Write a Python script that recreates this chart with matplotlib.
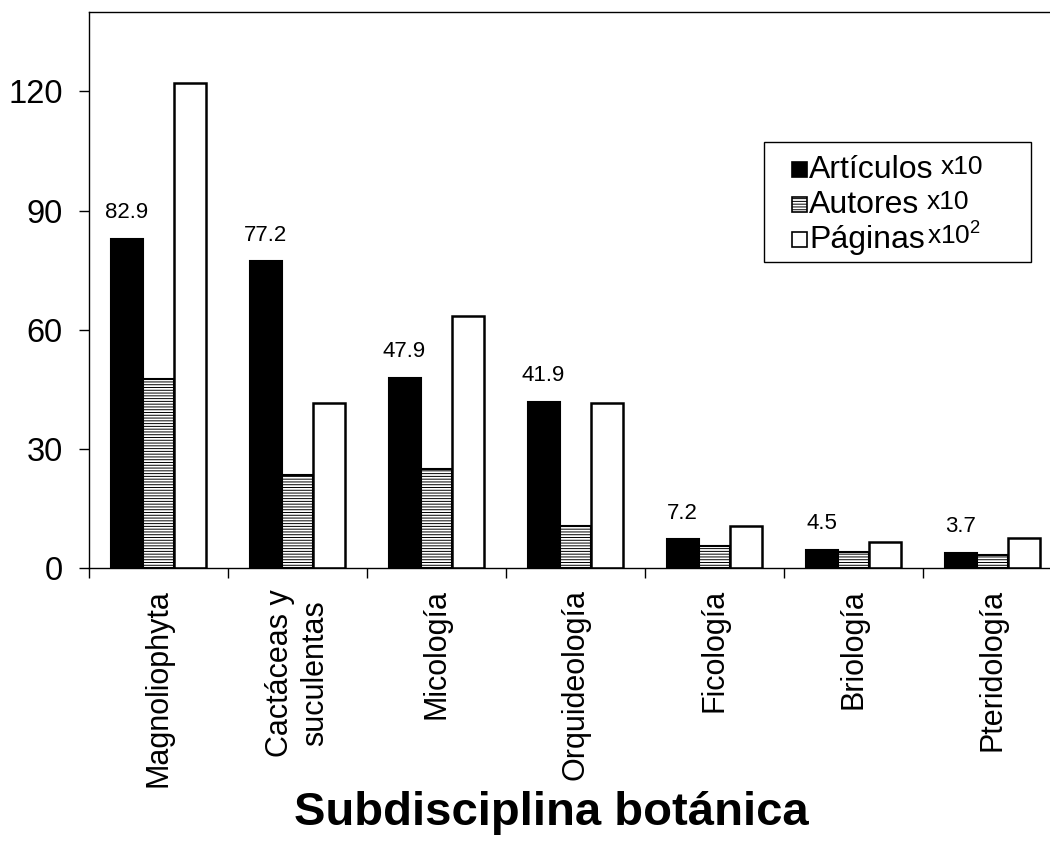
import numpy as np
import matplotlib.pyplot as plt
from matplotlib.patches import Rectangle

plt.rcParams['font.family'] = ['Liberation Sans', 'DejaVu Sans']
plt.rcParams['hatch.linewidth'] = 0.7
plt.rcParams['hatch.color'] = '#444444'

categories = ['Magnoliophyta', 'Cactáceas y\nsuculentas', 'Micología', 'Orquideología',
              'Ficología', 'Briología', 'Pteridología']
articulos = [82.9, 77.2, 47.9, 41.9, 7.2, 4.5, 3.7]
autores = [47.5, 23.5, 25.0, 10.5, 5.5, 4.0, 3.2]
paginas = [122.0, 41.5, 63.5, 41.5, 10.5, 6.5, 7.5]
yticks = [0, 30, 60, 90, 120]

W, H = 1050, 852
fig = plt.figure(figsize=(W / 100, H / 100), dpi=100)
ax = fig.add_axes([89 / W, 1 - 568 / H, (1062 - 89) / W, (568 - 12) / H])

x = np.arange(len(categories))
bw = 0.23
b1 = ax.bar(x - bw, articulos, bw, color='black', edgecolor='black', lw=1.5)
b2 = ax.bar(x, autores, bw, color='white', edgecolor='black', lw=1.5, hatch='------')
b3 = ax.bar(x + bw, paginas, bw, color='white', edgecolor='black', lw=1.8)

for rect, v in zip(b1, articulos):
    ax.annotate(f'{v:.1f}', (rect.get_x() + rect.get_width() / 2, v),
                xytext=(0, 19), textcoords='offset points',
                ha='center', va='center', fontsize=16)

ax.set_xlim(-0.5, 6.5)
ax.set_ylim(0, 140)
ax.set_yticks(yticks)
ax.tick_params(axis='y', labelsize=23.5, length=7, width=1, pad=12)
ax.set_xticks(np.arange(len(categories) + 1) - 0.5)
ax.set_xticklabels([])
ax.set_xticks(x, minor=True)
ax.set_xticklabels(categories, minor=True, rotation=90, fontsize=22, va='top', ha='center')
ax.tick_params(axis='x', which='major', length=7, width=1)
ax.tick_params(axis='x', which='minor', length=0, pad=15)
for s in ax.spines.values():
    s.set_linewidth(1)

ax.set_xlabel('Subdisciplina botánica', fontsize=34, fontweight='bold')
ax.xaxis.set_label_coords((551 - 89) / 973, -(813 - 568) / 556)
ax.xaxis.label.set_va('center')

# legend built by hand so the "x10" suffixes can sit raised after each label
def fx(px):
    return px / W

def fy(py):
    return 1 - py / H

fig.add_artist(Rectangle((fx(764), fy(262)), fx(1031) - fx(764), (262 - 142) / H,
                         transform=fig.transFigure, fill=False, lw=1, ec='black'))
rows = [('Artículos', 'x10', dict(color='black', ec='black')),
        ('Autores', 'x10', dict(color='white', ec='black', hatch='------')),
        ('Páginas', r'x10$^{\mathregular{2}}$', dict(color='white', ec='black'))]
row_y = [170, 205, 240]
for (lab, suf, style), yy in zip(rows, row_y):
    fig.add_artist(Rectangle((fx(792), fy(yy + 7)), 15 / W, 15 / H,
                             transform=fig.transFigure, lw=1.2, **style))
    t = fig.text(fx(809), fy(yy), lab, fontsize=23, va='center', ha='left')
    gap = 2 if lab == 'Páginas' else 7
    rise = 5 if lab == 'Páginas' else 3
    ax.annotate(suf, xy=(1, 0.5), xycoords=t, xytext=(gap * 0.72, rise * 0.72),
                textcoords='offset points', fontsize=19, va='center', ha='left',
                annotation_clip=False)

fig.savefig('out.png', dpi=100)
